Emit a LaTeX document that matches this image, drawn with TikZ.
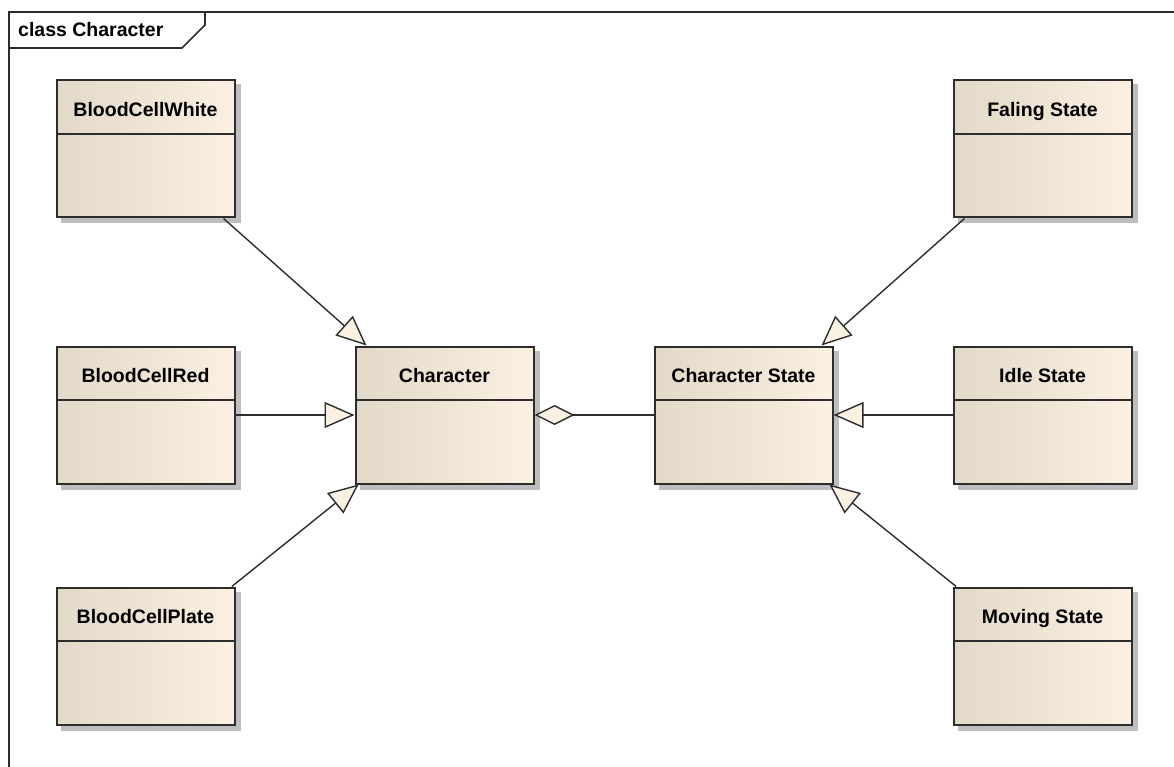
\documentclass[tikz,border=0pt]{standalone}
\usepackage{fontspec}
\setmainfont{Liberation Sans}
\usepackage{tikz}
\usetikzlibrary{arrows.meta,positioning,backgrounds}
\definecolor{clsleft}{RGB}{227,217,200}
\definecolor{clsright}{RGB}{251,240,225}
\definecolor{tipfill}{RGB}{251,241,227}
\definecolor{edge}{RGB}{45,45,45}
\definecolor{shadowgray}{RGB}{190,190,190}

\begin{document}
\begin{tikzpicture}[x=1pt,y=-1pt,font=\fontsize{19.5pt}{22pt}\selectfont\bfseries,>=Latex]
\tikzset{cls/.style={draw=edge,line width=2pt,rectangle,minimum width=178pt,minimum height=137pt,
    inner sep=0pt,text height=14pt,text depth=79pt,left color=clsleft,right color=clsright,
    path picture={\draw[edge,line width=1.6pt] ([yshift=-53.5pt]path picture bounding box.north west)
      -- ([yshift=-53.5pt]path picture bounding box.north east);}},
  gen/.style={draw=edge,line width=1.4pt,-{Triangle[length=30pt,width=26pt,fill=tipfill]}},
  agg/.style={draw=edge,line width=1.4pt,{Diamond[length=40pt,width=20pt,fill=tipfill]}-}}
\useasboundingbox (0,0) rectangle (1174,767);
% frame
\draw[edge,line width=2pt] (9,12) rectangle (1200,800);
\draw[edge,line width=1.6pt] (9,48) -- (182,48) -- (205,25) -- (205,12);
\node[anchor=base west,inner sep=0pt] (frm) at (18,37) {class Character};
% classes
\node[cls] (bcw) at (145.5,149) {BloodCellWhite};
\node[cls,below=127pt of bcw] (bcr) {BloodCellRed};
\node[cls,below=102pt of bcr] (bcp) {BloodCellPlate};
\node[cls,right=119pt of bcr] (chr) {Character};
\node[cls,right=119pt of chr] (chs) {Character State};
\node[cls,right=119pt of chs] (idl) {Idle State};
\node[cls,above=127pt of idl] (fal) {Faling State};
\node[cls,below=102pt of idl] (mov) {Moving State};
\begin{scope}[on background layer]
\foreach \n in {bcw,bcr,bcp,chr,chs,fal,idl,mov}
  \fill[shadowgray] ([shift={(5pt,-5pt)}]\n.south west) rectangle ([shift={(5pt,-5pt)}]\n.north east);
\end{scope}
% relations
\draw[gen] (bcw) -- (chr);
\draw[gen] (bcr) -- (chr);
\draw[gen] (bcp) -- (chr);
\draw[gen] (fal) -- (chs);
\draw[gen] (idl) -- (chs);
\draw[gen] (mov) -- (chs);
\draw[agg] (chr) -- (chs);
\end{tikzpicture}
\end{document}
